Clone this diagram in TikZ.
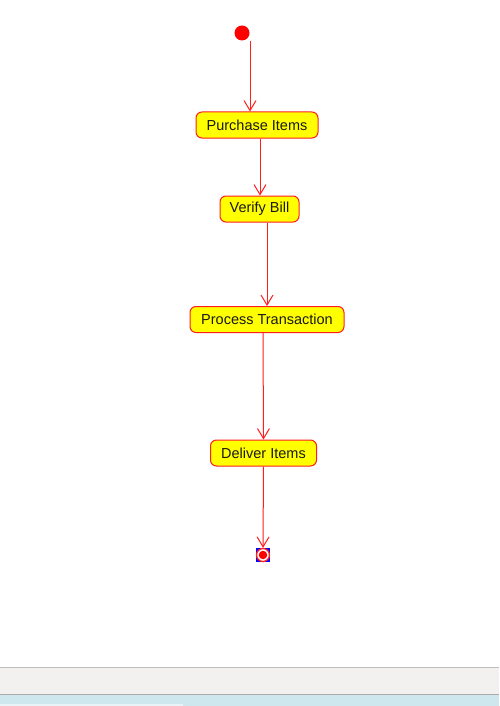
\documentclass[tikz,border=0pt]{standalone}
\usepackage{fontspec}
\setmainfont{Liberation Sans}
\usetikzlibrary{arrows.meta}
\definecolor{umlred}{RGB}{255,30,30}
\definecolor{umlyellow}{RGB}{255,255,0}
\definecolor{barbg}{RGB}{242,241,239}
\definecolor{barline}{RGB}{190,190,190}
\definecolor{bluebar}{RGB}{206,231,238}
\tikzset{
  activity/.style={draw=umlred, fill=umlyellow, rounded corners=6pt, line width=1pt,
    minimum height=26pt, inner sep=0pt, font=\fontsize{14.5}{16}\selectfont, text=black!90},
  flow/.style={draw=umlred, line width=1pt, -{Straight Barb[length=10pt,width=12pt,line width=1pt]}},
  startnode/.style={circle, fill=red, minimum size=15pt, inner sep=0pt},
}
\begin{document}
\begin{tikzpicture}[x=1pt,y=-1pt]
\useasboundingbox (0,0) rectangle (499,706);
\fill[white] (0,0) rectangle (499,706);
% bottom window strip
\fill[barbg] (0,667) rectangle (499,694);
\draw[barline, line width=0.8pt] (0,667.5) -- (499,667.5);
\fill[bluebar] (0,694) rectangle (499,706);
\draw[barline!90!black, line width=0.8pt] (0,694) -- (499,694);
\fill[bluebar!50!white] (0,703.5) rectangle (183,706);

\node[startnode] (init) at (242,33) {};
\node[activity, minimum width=122pt] (pi) at (257,125) {Purchase Items};
\node[activity, minimum width=79pt] (vb) at (259.5,209) {Verify Bill};
\node[activity, minimum width=154pt] (pt) at (267,319.5) {Process Transaction};
\node[activity, minimum width=106pt] (di) at (263.5,453) {Deliver Items};

% final node
\node[draw=none, fill=blue, minimum size=14pt, inner sep=0pt] (fin) at (263,555) {};
\node[circle, draw=umlred, fill=white, line width=1.3pt, minimum size=13pt, inner sep=0pt] (finring) at (fin) {};
\node[circle, fill=red, minimum size=8.5pt, inner sep=0pt] (findot) at (fin) {};

\draw[flow] ([xshift=8pt]init.center |- init.south) -- ([xshift=-7pt]pi.north);
\draw[flow] ([xshift=3pt]pi.south) -- ([xshift=0.5pt]vb.north);
\draw[flow] ([xshift=7.5pt]vb.south) -- ([xshift=0pt]pt.north);
\draw[flow] ([xshift=-4pt]pt.south) -- ([xshift=0pt]di.north);
\draw[flow] ([xshift=0pt]di.south) -- (fin.north);
\end{tikzpicture}
\end{document}
